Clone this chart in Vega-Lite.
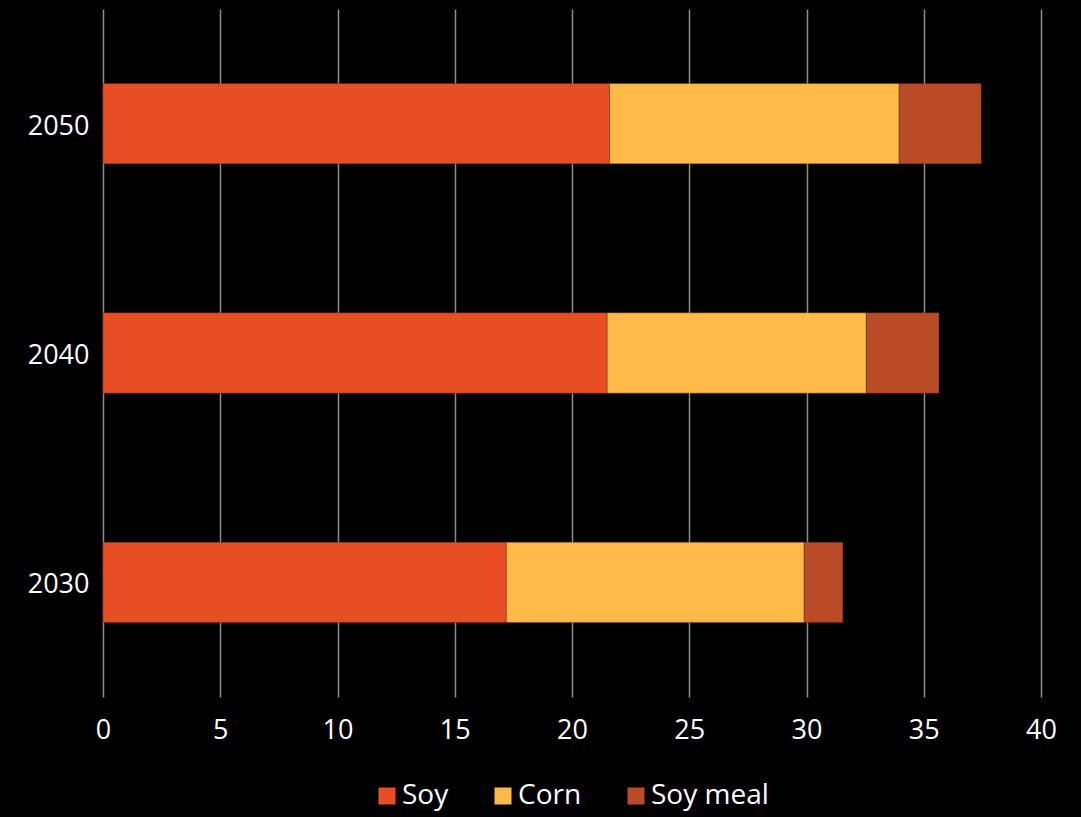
{
  "$schema": "https://vega.github.io/schema/vega-lite/v6.json",
  "autosize": "none",
  "width": 938,
  "height": 688,
  "padding": {"left": 103, "top": 9, "right": 40, "bottom": 120},
  "background": "#000000",
  "config": {
    "view": {"stroke": null},
    "font": "Open Sans"
  },
  "data": {
    "values": [
      {"year": "2050", "crop": "Soy", "k": 1, "value": 21.6},
      {"year": "2050", "crop": "Corn", "k": 2, "value": 12.35},
      {"year": "2050", "crop": "Soy meal", "k": 3, "value": 3.5},
      {"year": "2040", "crop": "Soy", "k": 1, "value": 21.5},
      {"year": "2040", "crop": "Corn", "k": 2, "value": 11.05},
      {"year": "2040", "crop": "Soy meal", "k": 3, "value": 3.1},
      {"year": "2030", "crop": "Soy", "k": 1, "value": 17.2},
      {"year": "2030", "crop": "Corn", "k": 2, "value": 12.7},
      {"year": "2030", "crop": "Soy meal", "k": 3, "value": 1.65}
    ]
  },
  "mark": {"type": "bar", "stroke": "#5a2a10", "strokeWidth": 0.6, "strokeOpacity": 0.6},
  "encoding": {
    "y": {
      "field": "year",
      "type": "nominal",
      "sort": ["2050", "2040", "2030"],
      "scale": {"paddingInner": 0.65, "paddingOuter": 0.325},
      "axis": {
        "title": null,
        "domain": false,
        "ticks": false,
        "labelColor": "#ffffff",
        "labelFontSize": 27,
        "labelPadding": 14,
        "labelOffset": 3
      }
    },
    "x": {
      "field": "value",
      "type": "quantitative",
      "stack": "zero",
      "scale": {"domain": [0, 40], "nice": false},
      "axis": {
        "title": null,
        "values": [0, 5, 10, 15, 20, 25, 30, 35, 40],
        "domain": false,
        "ticks": false,
        "grid": true,
        "gridColor": "#8c8c8c",
        "gridWidth": 1.5,
        "labelColor": "#ffffff",
        "labelFontSize": 27,
        "labelPadding": 20,
        "labelFlush": false
      }
    },
    "color": {
      "field": "crop",
      "type": "nominal",
      "sort": ["Soy", "Corn", "Soy meal"],
      "scale": {
        "domain": ["Soy", "Corn", "Soy meal"],
        "range": ["#e84e24", "#ffba47", "#b94b27"]
      },
      "legend": {
        "title": null,
        "orient": "none",
        "direction": "horizontal",
        "legendX": 270,
        "legendY": 773,
        "symbolType": "square",
        "symbolSize": 289,
        "symbolStrokeWidth": 0,
        "labelColor": "#ffffff",
        "labelFontSize": 28,
        "labelOffset": 1,
        "columnPadding": 40
      }
    },
    "order": {"field": "k", "type": "quantitative"}
  }
}
